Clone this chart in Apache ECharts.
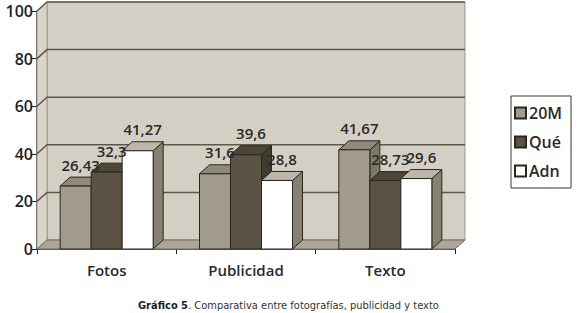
<!DOCTYPE html>
<html>
<head>
<meta charset="utf-8">
<script src="https://cdn.jsdelivr.net/npm/echarts@6.0.0/dist/echarts.min.js"></script>
<style>
  html, body { margin: 0; padding: 0; background: #fff; }
  #chart { width: 580px; height: 313px; }
</style>
</head>
<body>
<div id="chart"></div>
<script>
// categorias y valores
var categorias = ['Fotos', 'Publicidad', 'Texto'];
var serie20M = [26.43, 31.6, 41.67];
var serieQue = [32.3, 39.6, 28.73];
var serieAdn = [41.27, 28.8, 29.6];
var ticksY = [20, 40, 60, 80, 100];

var myChart = echarts.init(document.getElementById('chart'), null, { renderer: 'svg' });

var BW = 31;          // ancho de barra
var DX = 10, DY = 9;  // profundidad 3D
var LINEA = '#2b271e';
var FUENTE = "'Open Sans', 'DejaVu Sans', sans-serif";
var ANGOSTA = "'Liberation Sans Narrow', 'DejaVu Sans Condensed', sans-serif";

// colores: frente, lado, tapa
var colores = [
    { front: '#a09b8d', side: '#7c7769', top: '#8e897b' },
    { front: '#5b5445', side: '#403b30', top: '#4d4739' },
    { front: '#ffffff', side: '#878172', top: '#bcb7aa' }
];

function fmt(v) {
    return String(v).replace('.', ',');
}

// barra 3D (frente + tapa + lado + etiqueta)
function barra(idx) {
    return function (params, api) {
        var cat = api.value(0), val = api.value(1);
        var base = api.coord([cat, 0]);
        var tope = api.coord([cat, val]);
        var x0 = base[0] + (idx - 1.5) * BW;
        var x1 = x0 + BW;
        var yb = base[1], yt = tope[1];
        var c = colores[idx];
        var st = { stroke: LINEA, lineWidth: 1 };
        return {
            type: 'group',
            children: [
                { type: 'polygon', shape: { points: [[x1, yt], [x1 + DX, yt - DY], [x1 + DX, yb - DY], [x1, yb]] },
                  style: Object.assign({ fill: c.side }, st) },
                { type: 'polygon', shape: { points: [[x0, yt], [x1, yt], [x1 + DX, yt - DY], [x0 + DX, yt - DY]] },
                  style: Object.assign({ fill: c.top }, st) },
                { type: 'rect', shape: { x: x0, y: yt, width: BW, height: yb - yt },
                  style: Object.assign({ fill: c.front }, st) },
                { type: 'text', z2: 100,
                  style: { text: fmt(val), x: x0 + BW / 2 + DX / 2, y: yt - DY - 5,
                           align: 'center', verticalAlign: 'bottom',
                           font: '600 15px ' + FUENTE, fill: '#2a2a2a' } }
            ]
        };
    };
}

// pared de fondo, pared lateral, piso y lineas de division
function marco(params, api) {
    var cs = params.coordSys;
    var xl = cs.x, xr = cs.x + cs.width;
    var y0 = api.coord([0, 0])[1];
    var yTop = cs.y;
    var hijos = [];
    if (params.dataIndex === 0) {
        hijos.push(
            { type: 'polygon', shape: { points: [[xl + DX, yTop - DY], [xr + DX, yTop - DY], [xr + DX, y0 - DY], [xl + DX, y0 - DY]] },
              style: { fill: '#d3cfc4', stroke: '#9c978a', lineWidth: 1 } },
            { type: 'polygon', shape: { points: [[xl, y0], [xl, yTop], [xl + DX, yTop - DY], [xl + DX, y0 - DY]] },
              style: { fill: '#d9d5ca', stroke: '#9c978a', lineWidth: 1 } },
            { type: 'polygon', shape: { points: [[xl, y0], [xl + DX, y0 - DY], [xr + DX, y0 - DY], [xr, y0]] },
              style: { fill: '#aba699', stroke: '#6e695c', lineWidth: 1 } }
        );
    }
    var y = api.coord([0, api.value(0)])[1];
    hijos.push({ type: 'polyline', shape: { points: [[xl, y], [xl + DX, y - DY], [xr + DX, y - DY]] },
                 style: { stroke: '#5d584a', lineWidth: 1.5, fill: null } });
    return { type: 'group', children: hijos };
}

function serieBarra(nombre, valores, idx) {
    return {
        name: nombre,
        type: 'custom',
        z: 3,
        renderItem: barra(idx),
        itemStyle: { color: colores[idx].front, borderColor: LINEA, borderWidth: 1 },
        encode: { x: 0, y: 1 },
        data: valores.map(function (v, i) { return [i, v]; })
    };
}

option = {
    animation: false,
    backgroundColor: '#ffffff',
    grid: { left: 37, right: 125, top: 11, bottom: 64 },
    title: {
        left: 133,
        top: 295,
        text: '{b|Gráfico 5}. Comparativa entre fotografías, publicidad y texto',
        textStyle: {
            fontFamily: ANGOSTA,
            fontSize: 11, fontWeight: 'normal', color: '#333',
            rich: { b: { fontFamily: ANGOSTA, fontSize: 11, fontWeight: 'bold', color: '#1e1e1e' } }
        }
    },
    legend: {
        orient: 'vertical',
        left: 511,
        top: 96,
        data: ['20M', 'Qué', 'Adn'],
        icon: 'rect',
        itemWidth: 11,
        itemHeight: 11,
        itemGap: 13,
        padding: [9, 9, 9, 3],
        borderColor: '#3a372e',
        borderWidth: 1,
        backgroundColor: '#fff',
        textStyle: { fontFamily: FUENTE, fontSize: 16, fontWeight: 600, color: '#2a2a2a', padding: [0, 0, 0, -2] }
    },
    xAxis: {
        type: 'category',
        data: categorias,
        axisLine: { lineStyle: { color: '#222', width: 1.5 } },
        axisTick: { show: true, length: 5, lineStyle: { color: '#222' } },
        axisLabel: { margin: 13, fontFamily: FUENTE, fontSize: 15, fontWeight: 600, color: '#2a2a2a' },
        splitLine: { show: false }
    },
    yAxis: {
        type: 'value',
        min: 0, max: 100, interval: 20,
        axisLine: { show: true, lineStyle: { color: '#222', width: 1.5 } },
        axisTick: { show: true, length: 5, lineStyle: { color: '#222' } },
        axisLabel: { margin: 4, fontFamily: FUENTE, fontSize: 16, fontWeight: 600, color: '#1e1e1e' },
        splitLine: { show: false }
    },
    series: [
        {
            type: 'custom',
            z: 1,
            silent: true,
            renderItem: marco,
            encode: { y: 0 },
            data: ticksY.map(function (t) { return [t]; })
        },
        serieBarra('20M', serie20M, 0),
        serieBarra('Qué', serieQue, 1),
        serieBarra('Adn', serieAdn, 2)
    ]
};

myChart.setOption(option);
</script>
</body>
</html>
